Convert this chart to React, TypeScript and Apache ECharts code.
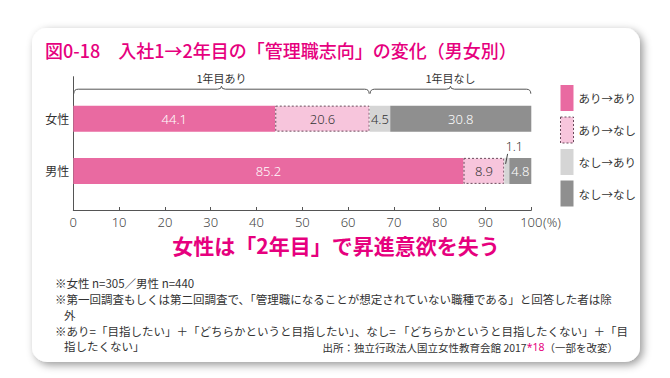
import React, { useEffect, useRef } from 'react';
import * as echarts from 'echarts';

const categories = ['女性', '男性'];
const seriesNames = ['あり→あり', 'あり→なし', 'なし→あり', 'なし→なし'];
const ariAri = [44.1, 85.2];
const ariNashi = [20.6, 8.9];
const nashiAri = [4.5, 1.1];
const nashiNashi = [30.8, 4.8];
const braceLabels = ['1年目あり', '1年目なし'];
const xMin = 0;
const xMax = 100;
const xInterval = 10;

const titleText = '図0-18　入社1→2年目の「管理職志向」の変化（男女別）';
const subtitleText = '女性は「2年目」で昇進意欲を失う';
const noteLines = [
  '※女性 n=305／男性 n=440',
  '※第一回調査もしくは第二回調査で、「管理職になることが想定されていない職種である」と回答した者は除',
  '外',
  '※あり=「目指したい」＋「どちらかというと目指したい」、なし= 「どちらかというと目指したくない」＋「目',
  '指したくない」',
];
const sourcePre = '出所：独立行政法人国立女性教育会館 2017';
const sourceMark = '*18';
const sourcePost = '（一部を改変）';

const PINK = '#e6007e';
const CJK = "'Noto Sans CJK JP', sans-serif";
const NUM = "'Noto Sans', 'Open Sans', sans-serif";
const SMALL = 2;

export default function App() {
  const ref = useRef<HTMLDivElement>(null);
  useEffect(() => {
    if (!ref.current) return;
    const chart = echarts.init(ref.current, null, { renderer: 'svg' });
    const valuesList = [ariAri, ariNashi, nashiAri, nashiNashi];
    const colors = ['#e96aa1', '#f7c5dc', '#d5d5d5', '#8f8f8f'];
    const labelColors = ['#ffffff', '#333333', '#333333', '#ffffff'];
    const dashedStyle = { borderColor: '#6b4a5c', borderWidth: 1, borderType: [2, 2] };
    const split = ariAri[0] + ariNashi[0];
    const braceRanges = [
      [xMin, split, 1],
      [split, xMax, 1],
    ];

    // small segments get an outside callout
    const callouts: number[][] = [];
    categories.forEach((_, ci) => {
      let cum = 0;
      valuesList.forEach((vals) => {
        const v = vals[ci];
        if (v < SMALL) callouts.push([cum, v, ci]);
        cum += v;
      });
    });

    const barSeries = seriesNames.map((name, si) => ({
      type: 'bar',
      name,
      stack: 'total',
      xAxisIndex: 1,
      yAxisIndex: 1,
      barWidth: 26,
      itemStyle: si === 1 ? { color: colors[si], ...dashedStyle } : { color: colors[si] },
      label: {
        show: true,
        position: 'inside',
        color: labelColors[si],
        fontSize: 13,
        fontFamily: NUM,
        fontWeight: 300,
      },
      data: valuesList[si].map((v) => (v < SMALL ? { value: v, label: { show: false } } : v)),
    }));

    const option: any = {
      animation: false,
      backgroundColor: '#ffffff',
      graphic: [
        {
          type: 'rect',
          z: -10,
          silent: true,
          shape: { x: 32, y: 28, width: 608, height: 334, r: 15 },
          style: {
            fill: '#ffffff',
            shadowBlur: 9,
            shadowColor: 'rgba(0,0,0,0.4)',
            shadowOffsetX: 3,
            shadowOffsetY: 3,
          },
        },
        {
          type: 'text',
          x: 45,
          y: 50,
          style: {
            text: titleText,
            fontSize: 18,
            fontFamily: CJK,
            fontWeight: 500,
            fill: PINK,
            verticalAlign: 'middle',
          },
        },
        {
          type: 'text',
          x: 336,
          y: 245,
          style: {
            text: subtitleText,
            fontSize: 21,
            fontFamily: CJK,
            fontWeight: 'bold',
            fill: PINK,
            align: 'center',
            verticalAlign: 'middle',
          },
        },
        ...noteLines.map((t, i) => ({
          type: 'text',
          x: t.startsWith('※') ? 55 : 64,
          y: [283, 299, 315, 331, 346][i],
          style: {
            text: t,
            fontSize: 11.5,
            fontFamily: CJK,
            fill: '#333',
            verticalAlign: 'middle',
          },
        })),
        {
          type: 'text',
          x: 618,
          y: 347,
          style: {
            text: `{n|${sourcePre}}{p|${sourceMark}}{n|${sourcePost}}`,
            align: 'right',
            verticalAlign: 'middle',
            rich: {
              n: { fontSize: 10.5, fontFamily: CJK, fill: '#333', color: '#333' },
              p: { fontSize: 10.5, fontFamily: NUM, fill: PINK, color: PINK },
            },
          },
        },
      ],
      legend: {
        orient: 'vertical',
        left: 555,
        top: 80,
        itemWidth: 13,
        itemHeight: 26,
        itemGap: 5.5,
        icon: 'rect',
        selectedMode: false,
        textStyle: { fontSize: 11.5, color: '#333', fontFamily: CJK },
        data: seriesNames.map((name, si) => ({
          name,
          itemStyle:
            si === 1
              ? { color: colors[si], ...dashedStyle }
              : { color: colors[si], borderWidth: 0 },
        })),
      },
      grid: [
        { left: 73.3, right: 138.7, top: 76.7, bottom: 168 },
        { left: 73.3, right: 138.7, top: 92.5, bottom: 181 },
      ],
      xAxis: [
        {
          type: 'value',
          gridIndex: 0,
          min: xMin,
          max: xMax,
          interval: xInterval,
          axisLine: { show: true, lineStyle: { color: '#555', width: 1 } },
          axisTick: { show: true, inside: true, length: 3, lineStyle: { color: '#555' } },
          splitLine: { show: false },
          axisLabel: {
            margin: 5,
            fontSize: 13,
            color: '#444',
            fontFamily: NUM,
            fontWeight: 300,
            formatter: (v: number) => (v === xMax ? `{pad|}{v|${v}}{p|(%)}` : `${v}`),
            rich: {
              pad: { width: 19 },
              v: { fontSize: 13, color: '#444', fontFamily: NUM, fontWeight: 300 },
              p: { fontSize: 13, color: '#444', fontFamily: NUM, fontWeight: 300, width: 19, align: 'left' },
            },
          },
        },
        {
          type: 'value',
          gridIndex: 1,
          min: xMin,
          max: xMax,
          show: false,
        },
      ],
      yAxis: [
        {
          type: 'value',
          gridIndex: 0,
          min: 0,
          max: 1,
          axisLine: { show: true, lineStyle: { color: '#555', width: 1 } },
          axisTick: { show: false },
          axisLabel: { show: false },
          splitLine: { show: false },
        },
        {
          type: 'category',
          gridIndex: 1,
          inverse: true,
          data: categories,
          axisLine: { show: false },
          axisTick: { show: false },
          axisLabel: { margin: 4, fontSize: 12, color: '#333', fontFamily: CJK },
        },
      ],
      series: [
        {
          type: 'custom',
          xAxisIndex: 0,
          yAxisIndex: 0,
          clip: false,
          silent: true,
          encode: { x: [0, 1], y: 2 },
          data: braceRanges,
          renderItem: (params: any, api: any) => {
            const x0 = api.coord([api.value(0), 1])[0];
            const x1 = api.coord([api.value(1), 1])[0];
            const top = api.coord([api.value(0), 1])[1];
            const yh = top + 12.5;
            const mid = (x0 + x1) / 2;
            const a = x0 + 0.5;
            const b = x1 - 0.5;
            const d =
              `M${a},${yh + 4.5} Q${a},${yh} ${a + 4.5},${yh} L${mid - 4},${yh} ` +
              `Q${mid},${yh} ${mid},${yh - 3} Q${mid},${yh} ${mid + 4},${yh} ` +
              `L${b - 4.5},${yh} Q${b},${yh} ${b},${yh + 4.5}`;
            return {
              type: 'group',
              children: [
                { type: 'path', shape: { pathData: d }, style: { fill: 'none', stroke: '#555', lineWidth: 1 } },
                {
                  type: 'text',
                  style: {
                    text: braceLabels[params.dataIndex],
                    x: mid,
                    y: top + 1,
                    align: 'center',
                    verticalAlign: 'middle',
                    fontSize: 11,
                    fontFamily: CJK,
                    fill: '#333',
                  },
                },
              ],
            };
          },
        },
        ...barSeries,
        {
          type: 'custom',
          xAxisIndex: 1,
          yAxisIndex: 1,
          clip: false,
          silent: true,
          z: 5,
          encode: { x: 0, y: 2 },
          data: callouts,
          renderItem: (params: any, api: any) => {
            const start = api.value(0);
            const val = api.value(1);
            const pt = api.coord([start + val / 2, api.value(2)]);
            const barTop = pt[1] - 13;
            const cx = pt[0];
            return {
              type: 'group',
              children: [
                {
                  type: 'line',
                  shape: { x1: cx + 0.8, y1: barTop - 4, x2: cx - 1.2, y2: barTop + 6 },
                  style: { stroke: '#444', lineWidth: 1 },
                },
                {
                  type: 'text',
                  style: {
                    text: String(val),
                    x: cx + 7.5,
                    y: barTop - 11,
                    align: 'center',
                    verticalAlign: 'middle',
                    fontSize: 12.5,
                    fontFamily: NUM,
                    fontWeight: 300,
                    fill: '#333',
                  },
                },
              ],
            };
          },
        },
      ],
    };
    chart.setOption(option);
    return () => chart.dispose();
  }, []);
  return (
    <div
      ref={ref}
      style={{ position: 'fixed', left: 0, top: 0, width: 670, height: 378 }}
    />
  );
}
